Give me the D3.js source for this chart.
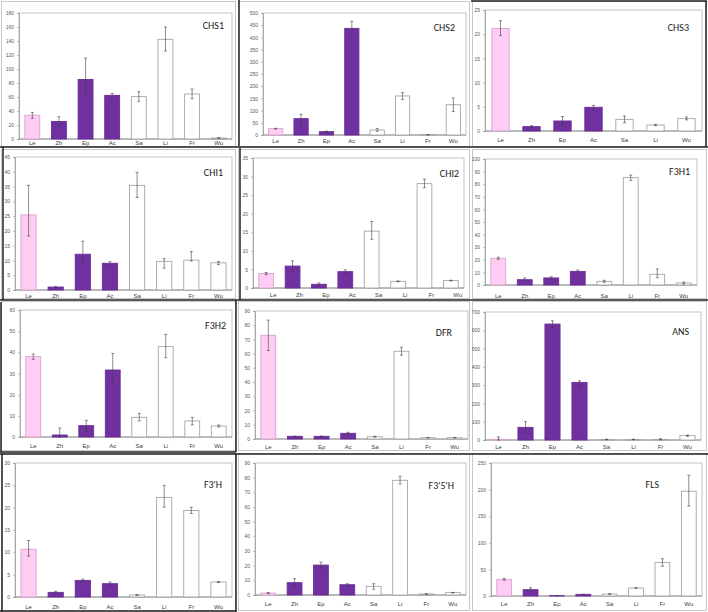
<!DOCTYPE html>
<html><head><meta charset="utf-8">
<script src="https://cdn.jsdelivr.net/npm/d3@7/dist/d3.min.js"></script>
<style>
html,body{margin:0;padding:0;background:#fff;}
svg{display:block;}
text{font-family:Carlito,Lato,"Liberation Sans",sans-serif;}
</style></head><body>
<svg id="c" width="708" height="612"></svg>
<script>
// ---------- DATA ----------
const catsAll  = ["Le","Zh","Ep","Ac","Sa","Li","Fr","Wu"];
const catsCHS3 = ["Le","Zh","Ep","Ac","Sa","Li","Wu"];
const genes = ["CHS1","CHS2","CHS3","CHI1","CHI2","F3H1","F3H2","DFR","ANS","F3'H","F3'5'H","FLS"];

const chs1    = [34, 25, 85, 62.4, 60.5, 142.4, 64.3, 1.4];
const chs1Err = [[29.5,38],[19,31.9],[62.4,115.7],[59.5,65],[53.8,67.6],[125.7,160],[57.6,71.4],[1,1.7]];
const chs2    = [26, 67, 13.7, 437, 20.5, 160, 1, 124];
const chs2Err = [[24.5,27.5],[44,85],[11,16],[408,466],[15,27],[146,173.5],[0.5,1.5],[96,152]];
const chs3    = [21.2, 0.9, 2.07, 4.9, 2.4, 1.24, 2.55];
const chs3Err = [[19.7,22.8],[0.75,1.1],[1.1,3.0],[4.4,5.3],[1.7,3.1],[1.1,1.38],[2.3,2.9]];
const chi1    = [25.4, 1.0, 12.1, 9.05, 35.4, 9.7, 10.1, 9.2];
const chi1Err = [[18.3,35.4],[0.8,1.2],[9,16.5],[8.5,9.6],[31.3,39.8],[7.4,10.6],[9.8,13],[8.6,9.6]];
const chi2    = [3.9, 5.9, 1.0, 4.4, 15.3, 1.8, 28.1, 2.0];
const chi2Err = [[3.6,4.15],[4.6,7.3],[0.7,1.35],[4.05,4.9],[13.1,17.9],[1.7,1.9],[27,29.3],[1.9,2.1]];
const f3h1    = [21.2, 4.2, 5.6, 10.8, 2.9, 85.2, 8.5, 1.6];
const f3h1Err = [[20.4,22],[3.2,5.6],[4.5,6.6],[9.8,11.9],[2.1,3.7],[83,87.3],[5.8,12.7],[0.8,2.4]];
const f3h2    = [37.95, 0.95, 5.35, 31.65, 9.3, 42.7, 7.6, 5.2];
const f3h2Err = [[36.7,39.2],[0,4.25],[2.8,7.9],[25.4,39.5],[7.6,11.2],[37.5,48.5],[5.7,9.3],[4.7,5.7]];
const dfr     = [72.9, 1.87, 1.87, 4.0, 1.6, 61.7, 0.9, 0.9];
const dfrErr  = [[62.2,83.6],[1.6,2.1],[1.6,2.1],[3.3,4.7],[1.3,1.9],[58.9,64.5],[0.8,1.0],[0.8,1.0]];
const ans     = [4, 69, 634, 315, 3, 3, 3, 24];
const ansErr  = [[0,17],[36,100],[616,652],[301,324],[2,4],[2,4],[1,7],[20,27]];
const f3ph    = [10.7, 1.04, 3.72, 2.98, 0.45, 22.3, 19.36, 3.35];
const f3phErr = [[9.16,12.66],[0.9,1.27],[3.5,4.0],[2.68,3.35],[0.35,0.55],[20.1,25],[18.7,20.1],[3.25,3.45]];
const f35h    = [1.36, 8.4, 20.4, 7.0, 5.9, 78.2, 0.7, 1.6];
const f35hErr = [[1.1,1.6],[5.7,11.1],[18.4,22.4],[6.1,7.7],[3.9,7.7],[75.7,81],[0.6,0.8],[1.4,1.8]];
const fls     = [31.25, 11.9, 0.6, 3.1, 3.75, 15, 63, 197];
const flsErr  = [[29.4,33],[8.75,15.6],[0.4,0.8],[2.8,3.4],[3.1,4.4],[14.5,15.5],[56,70],[169,227]];

const yMax  = [180, 500, 25, 45, 35, 100, 60, 90, 700, 30, 90, 250];
const yStep = [20, 50, 5, 5, 5, 10, 10, 10, 100, 5, 10, 50];

const seriesValues = [chs1, chs2, chs3, chi1, chi2, f3h1, f3h2, dfr, ans, f3ph, f35h, fls];
const seriesErrors = [chs1Err, chs2Err, chs3Err, chi1Err, chi2Err, f3h1Err, f3h2Err, dfrErr, ansErr, f3phErr, f35hErr, flsErr];
const seriesCats   = [catsAll, catsAll, catsCHS3, catsAll, catsAll, catsAll, catsAll, catsAll, catsAll, catsAll, catsAll, catsAll];

// ---------- LAYOUT (plot rects: left, top, right, bottom; title right-x, baseline; label baseline; label dx) ----------
const layout = [
  {r:[19,13,232,139],  t:[224,29],  ly:145, dx:0},
  {r:[263,13,466,135], t:[455,31],  ly:143, dx:0},
  {r:[485,10,702,131], t:[689,31],  ly:142, dx:0},
  {r:[15,157,232,290], t:[223,176], ly:298, dx:0},
  {r:[253,158,464,288],t:[459,177], ly:297, dx:7},
  {r:[485,159,697,285],t:[690,175], ly:298, dx:0},
  {r:[20,310,232,437], t:[226,329], ly:448, dx:0},
  {r:[255,311,468,439],t:[452,336], ly:449, dx:0},
  {r:[485,312,701,440],t:[689,335], ly:449, dx:0},
  {r:[15,463,232,597], t:[222,488], ly:609, dx:0},
  {r:[255,463,466,595],t:[454,489], ly:606, dx:0},
  {r:[491,463,702,596],t:[659,488], ly:606, dx:0}
];

const fillFor = c => c==="Le" ? "#ffccf4" : (["Zh","Ep","Ac"].includes(c) ? "#7030a0" : "#ffffff");
const strokeFor = c => c==="Le" ? "#d8a4d2" : (["Zh","Ep","Ac"].includes(c) ? "#6a2c98" : "#a6a6a6");

const svg = d3.select("#c");

// panel frames
const frames = svg.append("g");
const cellsX = [0,237,471,708], cellsY = [0,148,300,452,612];
for (let i=0;i<3;i++) for (let j=0;j<4;j++) {
  frames.append("rect").attr("x",cellsX[i]+1.5).attr("y",cellsY[j]+1.5)
    .attr("width",cellsX[i+1]-cellsX[i]-3).attr("height",cellsY[j+1]-cellsY[j]-3)
    .attr("fill","none").attr("stroke","#c8c8c8").attr("stroke-width",1);
}
// darker dividing lines seen in the collage
const dark = [
  [0,147,708,147],[239,0,239,146],[471,1,707,1],[706,1,706,147],
  [3,147,3,300],[240,148,240,300],[0,300,708,300],
  [1,302,1,452],[0,452,236,452],[236,300,236,452],
  [0,454,708,454],[2,454,2,612],[236,454,236,612],[0,611,236,611]
];
frames.selectAll("line.d").data(dark).join("line")
  .attr("x1",d=>d[0]).attr("y1",d=>d[1]).attr("x2",d=>d[2]).attr("y2",d=>d[3])
  .attr("stroke","#222").attr("stroke-width",1.5);

genes.forEach((g,i)=>{
  const L = layout[i], [x0,y0,x1,y1] = L.r;
  const cats = seriesCats[i], vals = seriesValues[i], errs = seriesErrors[i];
  const x = d3.scaleBand().domain(cats).range([x0,x1]).paddingInner(0.44).paddingOuter(0.22);
  const y = d3.scaleLinear().domain([0,yMax[i]]).range([y1,y0]);
  const gp = svg.append("g");

  gp.append("rect").attr("x",x0).attr("y",y0).attr("width",x1-x0).attr("height",y1-y0)
    .attr("fill","#fff").attr("stroke","#b4b4b4").attr("stroke-width",0.8);

  const ya = gp.append("g").attr("transform",`translate(${x0},0)`)
    .call(d3.axisLeft(y).tickValues(d3.range(0,yMax[i]+1e-9,yStep[i])).tickSize(2).tickPadding(3));
  ya.select(".domain").attr("stroke","#9a9a9a").attr("stroke-width",0.8);
  ya.selectAll(".tick line").attr("stroke","#9a9a9a").attr("stroke-width",0.6);
  ya.selectAll(".tick text").attr("fill","#595959").style("font-size","5px")
    .style("font-family","'Liberation Sans',sans-serif");

  gp.append("line").attr("x1",x0).attr("x2",x1).attr("y1",y(0)).attr("y2",y(0))
    .attr("stroke","#8a8a8a").attr("stroke-width",0.9);

  gp.selectAll("rect.bar").data(cats).join("rect").attr("class","bar")
    .attr("x",c=>x(c)).attr("width",x.bandwidth())
    .attr("y",(c,k)=>y(vals[k])).attr("height",(c,k)=>y(0)-y(vals[k]))
    .attr("fill",fillFor).attr("stroke",strokeFor).attr("stroke-width",0.9);

  const eg = gp.append("g").attr("stroke","#404040").attr("stroke-width",0.6);
  cats.forEach((c,k)=>{
    const cx = x(c)+x.bandwidth()/2, lo=y(errs[k][0]), hi=y(errs[k][1]);
    eg.append("line").attr("x1",cx).attr("x2",cx).attr("y1",lo).attr("y2",hi);
    eg.append("line").attr("x1",cx-1.5).attr("x2",cx+1.5).attr("y1",lo).attr("y2",lo);
    eg.append("line").attr("x1",cx-1.5).attr("x2",cx+1.5).attr("y1",hi).attr("y2",hi);
  });

  gp.selectAll("text.cat").data(cats).join("text").attr("class","cat")
    .attr("x",c=>x(c)+x.bandwidth()/2+L.dx).attr("y",L.ly)
    .attr("text-anchor","middle").attr("fill","#404040").style("font-size","6px")
    .style("font-family","'Liberation Sans',sans-serif").text(c=>c);

  gp.append("text").attr("x",L.t[0]).attr("y",L.t[1]).attr("text-anchor","end")
    .attr("fill","#1a1a1a").style("font-size","10px").text(g);
});
</script>
</body></html>
